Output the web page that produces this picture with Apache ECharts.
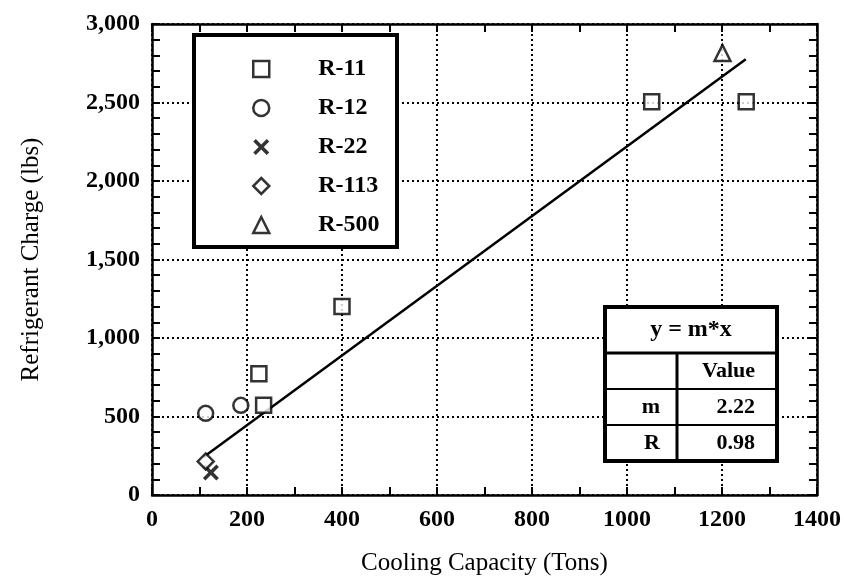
<!DOCTYPE html>
<html>
<head>
<meta charset="utf-8">
<script src="https://cdn.jsdelivr.net/npm/echarts@6/dist/echarts.min.js"></script>
<style>
  html, body { margin: 0; padding: 0; background: #fff; }
  #chart { width: 844px; height: 582px; }
</style>
</head>
<body>
<div id="chart"></div>
<script>
// values
var r11 = [[225, 773], [235, 571], [400, 1200], [1052, 2505], [1251, 2505]];
var r12 = [[113, 520], [187, 571]];
var r22 = [[124, 143]];
var r113 = [[113, 214]];
var r500 = [[1201, 2815]];

var slope = 2.22;
var corr = 0.98;
var fitX = [108, 1250];

var tableRows = [['', 'Value'], ['m', slope.toFixed(2)], ['R', corr.toFixed(2)]];

var serif = '"Liberation Serif", "DejaVu Serif", serif';
var crossPath = 'path://M0,1.6L1.6,0L5,3.4L8.4,0L10,1.6L6.6,5L10,8.4L8.4,10L5,6.6L1.6,10L0,8.4L3.4,5Z';

var hollow = { color: '#fff', borderColor: '#000', borderWidth: 2.5 };

function comma(v) {
    return String(v).replace(/\B(?=(\d{3})+(?!\d))/g, ',');
}

var chart = echarts.init(document.getElementById('chart'));

var tickStyle = { inside: true, length: 8, lineStyle: { color: '#000', width: 2 } };
var minorStyle = { show: true, length: 8, lineStyle: { color: '#000', width: 2 } };
var dotted = { color: '#000', type: [2, 3], width: 2 };
var lblFont = { fontFamily: serif, fontWeight: 'bold', fontSize: 24, color: '#000' };

// table box built from rows
var tx0 = 605, tx1 = 777, ty0 = 307, tHead = 353, rowH = 36, colX = 677;
var tableGraphics = [
    { type: 'rect', shape: { x: tx0, y: ty0, width: tx1 - tx0, height: tHead - ty0 + rowH * tableRows.length },
      style: { fill: '#fff', stroke: '#000', lineWidth: 4 }, z: 100 },
    { type: 'text', x: (tx0 + tx1) / 2, y: (ty0 + tHead) / 2,
      style: { text: 'y = m*x', font: 'bold 24px ' + serif, fill: '#000', align: 'center', verticalAlign: 'middle' }, z: 101 },
    { type: 'line', shape: { x1: tx0, y1: tHead, x2: tx1, y2: tHead }, style: { stroke: '#000', lineWidth: 3 }, z: 101 },
    { type: 'line', shape: { x1: colX, y1: tHead, x2: colX, y2: tHead + rowH * tableRows.length }, style: { stroke: '#000', lineWidth: 3 }, z: 101 }
];
tableRows.forEach(function (row, i) {
    var yc = tHead + rowH * i + rowH / 2;
    if (i > 0) {
        tableGraphics.push({ type: 'line', shape: { x1: tx0, y1: tHead + rowH * i, x2: tx1, y2: tHead + rowH * i },
            style: { stroke: '#000', lineWidth: 2 }, z: 101 });
    }
    tableGraphics.push({ type: 'text', x: colX - 17, y: yc,
        style: { text: row[0], font: 'bold 22px ' + serif, fill: '#000', align: 'right', verticalAlign: 'middle' }, z: 101 });
    tableGraphics.push({ type: 'text', x: tx1 - 22, y: yc,
        style: { text: row[1], font: 'bold 22px ' + serif, fill: '#000', align: 'right', verticalAlign: 'middle' }, z: 101 });
});

chart.setOption({
    animation: false,
    backgroundColor: '#fff',
    grid: { left: 152, right: 26, top: 24, bottom: 87 },
    legend: {
        orient: 'vertical',
        left: 247,
        top: 52,
        z: 20,
        itemWidth: 16,
        itemHeight: 16,
        itemGap: 15,
        itemStyle: { borderWidth: 2.5 },
        data: ['R-11', 'R-12', 'R-22', 'R-113', 'R-500'],
        textStyle: { fontFamily: serif, fontWeight: 'bold', fontSize: 24, color: '#000', padding: [0, 0, 0, 44] }
    },
    xAxis: [{
        type: 'value', min: 0, max: 1400, interval: 200, position: 'bottom',
        name: 'Cooling Capacity (Tons)', nameLocation: 'middle', nameGap: 56,
        nameTextStyle: { fontFamily: serif, fontSize: 25, color: '#000' },
        axisLine: { onZero: false, lineStyle: { color: '#000', width: 2.5 } },
        axisTick: tickStyle,
        minorTick: Object.assign({ splitNumber: 2 }, minorStyle),
        axisLabel: Object.assign({ margin: 13, formatter: function (v) { return String(v); } }, lblFont),
        splitLine: { show: true, lineStyle: dotted }
    }, {
        type: 'value', min: 0, max: 1400, interval: 200, position: 'top',
        axisLine: { show: true, onZero: false, lineStyle: { color: '#000', width: 2.5 } },
        axisTick: tickStyle,
        minorTick: Object.assign({ splitNumber: 2 }, minorStyle),
        axisLabel: { show: false }, splitLine: { show: false }
    }],
    yAxis: [{
        type: 'value', min: 0, max: 3000, interval: 500, position: 'left',
        name: 'Refrigerant Charge (lbs)', nameLocation: 'middle', nameGap: 108,
        nameTextStyle: { fontFamily: serif, fontSize: 25, color: '#000' },
        axisLine: { show: true, onZero: false, lineStyle: { color: '#000', width: 2.5 } },
        axisTick: tickStyle,
        minorTick: Object.assign({ splitNumber: 5 }, minorStyle),
        axisLabel: Object.assign({ margin: 12, formatter: comma }, lblFont),
        splitLine: { show: true, lineStyle: dotted }
    }, {
        type: 'value', min: 0, max: 3000, interval: 500, position: 'right',
        axisLine: { show: true, onZero: false, lineStyle: { color: '#000', width: 2.5 } },
        axisTick: tickStyle,
        minorTick: Object.assign({ splitNumber: 5 }, minorStyle),
        axisLabel: { show: false }, splitLine: { show: false }
    }],
    series: [
        { name: 'fit', type: 'line', showSymbol: false, silent: true, z: 1,
          data: fitX.map(function (x) { return [x, slope * x]; }),
          lineStyle: { color: '#000', width: 2.5 } },
        { name: 'R-11', type: 'scatter', symbol: 'rect', symbolSize: 15, data: r11, itemStyle: hollow, z: 5 },
        { name: 'R-12', type: 'scatter', symbol: 'circle', symbolSize: 15, data: r12, itemStyle: hollow, z: 5 },
        { name: 'R-22', type: 'scatter', symbol: crossPath, symbolSize: 16, data: r22,
          itemStyle: { color: '#000' }, z: 5 },
        { name: 'R-113', type: 'scatter', symbol: 'diamond', symbolSize: 16, data: r113, itemStyle: hollow, z: 5 },
        { name: 'R-500', type: 'scatter', symbol: 'triangle', symbolSize: 16, data: r500, itemStyle: hollow, z: 5 }
    ],
    graphic: [
        { type: 'rect', shape: { x: 194, y: 35, width: 203, height: 212 },
          style: { fill: '#fff', stroke: '#000', lineWidth: 4 }, z: 10 }
    ].concat(tableGraphics)
});
</script>
</body>
</html>
